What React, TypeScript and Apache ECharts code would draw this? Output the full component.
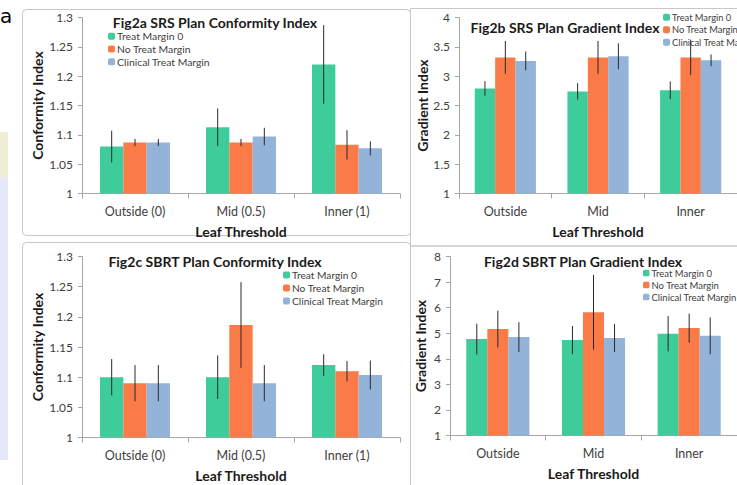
import React, { useEffect, useRef } from "react";
import * as echarts from "echarts";

const SERIES_NAMES = ["Treat Margin 0", "No Treat Margin", "Clinical Treat Margin"];
const COLORS = ["#3ECC9A", "#FA7B48", "#94B3D8"];

const CATS_CI = ["Outside (0)", "Mid (0.5)", "Inner (1)"];
const CATS_GI = ["Outside", "Mid", "Inner"];

// Fig2a SRS Conformity Index
const A_VALUES = [
  [1.08, 1.113, 1.22],
  [1.087, 1.087, 1.083],
  [1.087, 1.097, 1.077],
];
const A_ERRORS = [
  [0.027, 0.032, 0.067],
  [0.006, 0.006, 0.025],
  [0.006, 0.015, 0.012],
];

// Fig2b SRS Gradient Index
const B_VALUES = [
  [2.79, 2.74, 2.76],
  [3.32, 3.32, 3.32],
  [3.26, 3.34, 3.27],
];
const B_ERRORS = [
  [0.125, 0.14, 0.15],
  [0.28, 0.28, 0.3],
  [0.16, 0.22, 0.1],
];

// Fig2c SBRT Conformity Index
const C_VALUES = [
  [1.1, 1.1, 1.12],
  [1.09, 1.1865, 1.11],
  [1.09, 1.09, 1.1035],
];
const C_ERRORS = [
  [0.03, 0.036, 0.018],
  [0.03, 0.071, 0.017],
  [0.03, 0.03, 0.024],
];

// Fig2d SBRT Gradient Index
const D_VALUES = [
  [4.77, 4.73, 4.98],
  [5.16, 5.82, 5.2],
  [4.85, 4.81, 4.9],
];
const D_ERRORS = [
  [0.6, 0.55, 0.69],
  [0.72, 1.46, 0.57],
  [0.58, 0.55, 0.72],
];

const TITLES = [
  "Fig2a SRS Plan Conformity Index",
  "Fig2b SRS Plan Gradient Index",
  "Fig2c SBRT Plan Conformity Index",
  "Fig2d SBRT Plan Gradient Index",
];

const FONT = "Lato, 'Open Sans', sans-serif";
const GAP = 0.34;

export default function App() {
  const ref = useRef<HTMLDivElement>(null);

  useEffect(() => {
    if (!ref.current) return;
    const chart = echarts.init(ref.current, undefined, { renderer: "svg" });

    const panels = [
      { vals: A_VALUES, errs: A_ERRORS, cats: CATS_CI, yName: "Conformity Index", min: 1, max: 1.3, interval: 0.05,
        nameGap: 38, grid: { left: 82, top: 17.5, width: 318, height: 176 } },
      { vals: B_VALUES, errs: B_ERRORS, cats: CATS_GI, yName: "Gradient Index", min: 1, max: 4, interval: 0.5,
        nameGap: 30, grid: { left: 459, top: 17.5, width: 294, height: 176 } },
      { vals: C_VALUES, errs: C_ERRORS, cats: CATS_CI, yName: "Conformity Index", min: 1, max: 1.3, interval: 0.05,
        nameGap: 38, grid: { left: 82, top: 256.5, width: 318, height: 181 } },
      { vals: D_VALUES, errs: D_ERRORS, cats: CATS_GI, yName: "Gradient Index", min: 1, max: 8, interval: 1,
        nameGap: 23, grid: { left: 450, top: 256.5, width: 305, height: 179 } },
    ];

    const axisLineColor = "#A6A6A6";
    const grids: any[] = [];
    const xAxes: any[] = [];
    const yAxes: any[] = [];
    const series: any[] = [];

    panels.forEach((p, pi) => {
      grids.push({ ...p.grid, containLabel: false });
      xAxes.push({
        type: "category",
        gridIndex: pi,
        data: p.cats,
        boundaryGap: true,
        axisLine: { show: true, lineStyle: { color: axisLineColor, width: 1 } },
        axisTick: { show: true, length: 5, lineStyle: { color: axisLineColor } },
        axisLabel: { color: "#404040", fontSize: 12.5, fontFamily: FONT, margin: 11.5 },
        name: "Leaf Threshold",
        nameLocation: "middle",
        nameGap: 31,
        nameTextStyle: { color: "#1a1a1a", fontSize: 14, fontWeight: "bold", fontFamily: FONT },
      });
      yAxes.push({
        type: "value",
        gridIndex: pi,
        min: p.min,
        max: p.max,
        interval: p.interval,
        splitLine: { show: false },
        axisLine: { show: true, lineStyle: { color: axisLineColor, width: 1 } },
        axisTick: { show: true, length: 4, lineStyle: { color: axisLineColor } },
        axisLabel: { color: "#404040", fontSize: 12, fontFamily: FONT, margin: 9 },
        name: p.yName,
        nameLocation: "middle",
        nameGap: p.nameGap,
        nameTextStyle: { color: "#1a1a1a", fontSize: 14, fontWeight: "bold", fontFamily: FONT },
      });
      for (let k = 0; k < 3; k++) {
        series.push({
          type: "bar",
          name: SERIES_NAMES[k],
          xAxisIndex: pi,
          yAxisIndex: pi,
          data: p.vals[k],
          barGap: "0%",
          barCategoryGap: GAP * 100 + "%",
          itemStyle: { color: COLORS[k] },
          z: 2,
        });
      }
      for (let k = 0; k < 3; k++) {
        const kk = k;
        series.push({
          type: "custom",
          name: "err-" + pi + "-" + k,
          xAxisIndex: pi,
          yAxisIndex: pi,
          z: 5,
          encode: { x: 0, y: 1 },
          data: p.vals[k].map((v, ci) => [ci, v, p.errs[k][ci]]),
          renderItem: (params: any, api: any) => {
            const ci = api.value(0);
            const v = api.value(1);
            const e = api.value(2);
            const catW = api.size([1, 0])[0];
            const barW = (catW * (1 - GAP)) / 3;
            const off = (kk - 1) * barW;
            const top = api.coord([ci, v + e]);
            const bot = api.coord([ci, v - e]);
            return {
              type: "line",
              shape: { x1: top[0] + off, y1: top[1], x2: top[0] + off, y2: bot[1] },
              style: { stroke: "#2a2a2a", lineWidth: 1 },
            };
          },
        });
      }
    });

    const legendBase = (left: number, top: number, fontSize: number, lineHeight: number, icon: number) => ({
      data: SERIES_NAMES,
      orient: "vertical",
      left,
      top,
      itemWidth: icon,
      itemHeight: icon,
      itemGap: 0,
      padding: 0,
      textStyle: { fontSize, lineHeight, color: "#404040", fontFamily: FONT, padding: [0, 0, 0, -3] },
    });

    const legends = [
      legendBase(108, 30, 10.4, 12.7, 7),
      legendBase(663, 11, 9.3, 12.5, 7),
      legendBase(283, 268.5, 10.2, 13, 7),
      legendBase(643, 267, 9.5, 12, 6.5),
    ];

    const titlePos = [
      [215, 22],
      [565, 27],
      [215, 261],
      [583, 261],
    ];

    const graphic: any[] = [
      { type: "rect", shape: { x: 0, y: 132, width: 8, height: 45 }, style: { fill: "#F2EED6" }, z: -10 },
      { type: "rect", shape: { x: 0, y: 177, width: 8, height: 283 }, style: { fill: "#E7E7FA" }, z: -10 },
      { type: "text", x: 0, y: 6, style: { text: "a", font: "20px 'DejaVu Sans', sans-serif", fill: "#000", textBaseline: "alphabetic" }, z: -5 },
      { type: "rect", shape: { x: 22.5, y: 9.5, width: 388, height: 226, r: 4 }, style: { fill: "none", stroke: "#C8C8C8", lineWidth: 1 }, z: -5 },
      { type: "rect", shape: { x: 22.5, y: 242.5, width: 388, height: 260, r: 4 }, style: { fill: "none", stroke: "#C8C8C8", lineWidth: 1 }, z: -5 },
      { type: "rect", shape: { x: 410.5, y: 8.5, width: 340, height: 237.5 }, style: { fill: "none", stroke: "#C8C8C8", lineWidth: 1 }, z: -5 },
      { type: "rect", shape: { x: 410.5, y: 246, width: 340, height: 260 }, style: { fill: "none", stroke: "#C8C8C8", lineWidth: 1 }, z: -5 },
      ...TITLES.map((t, i) => ({
        type: "text",
        x: titlePos[i][0],
        y: titlePos[i][1],
        z: 10,
        style: {
          text: t,
          font: "bold 14px " + FONT,
          fill: "#1a1a1a",
          textAlign: "center",
          textVerticalAlign: "middle",
        },
      })),
    ];

    chart.setOption({
      animation: false,
      backgroundColor: "#ffffff",
      grid: grids,
      xAxis: xAxes,
      yAxis: yAxes,
      legend: legends,
      series,
      graphic,
    });

    return () => chart.dispose();
  }, []);

  return (
    <div
      ref={ref}
      style={{ position: "fixed", left: 0, top: 0, width: 737, height: 485, background: "#fff" }}
    />
  );
}
